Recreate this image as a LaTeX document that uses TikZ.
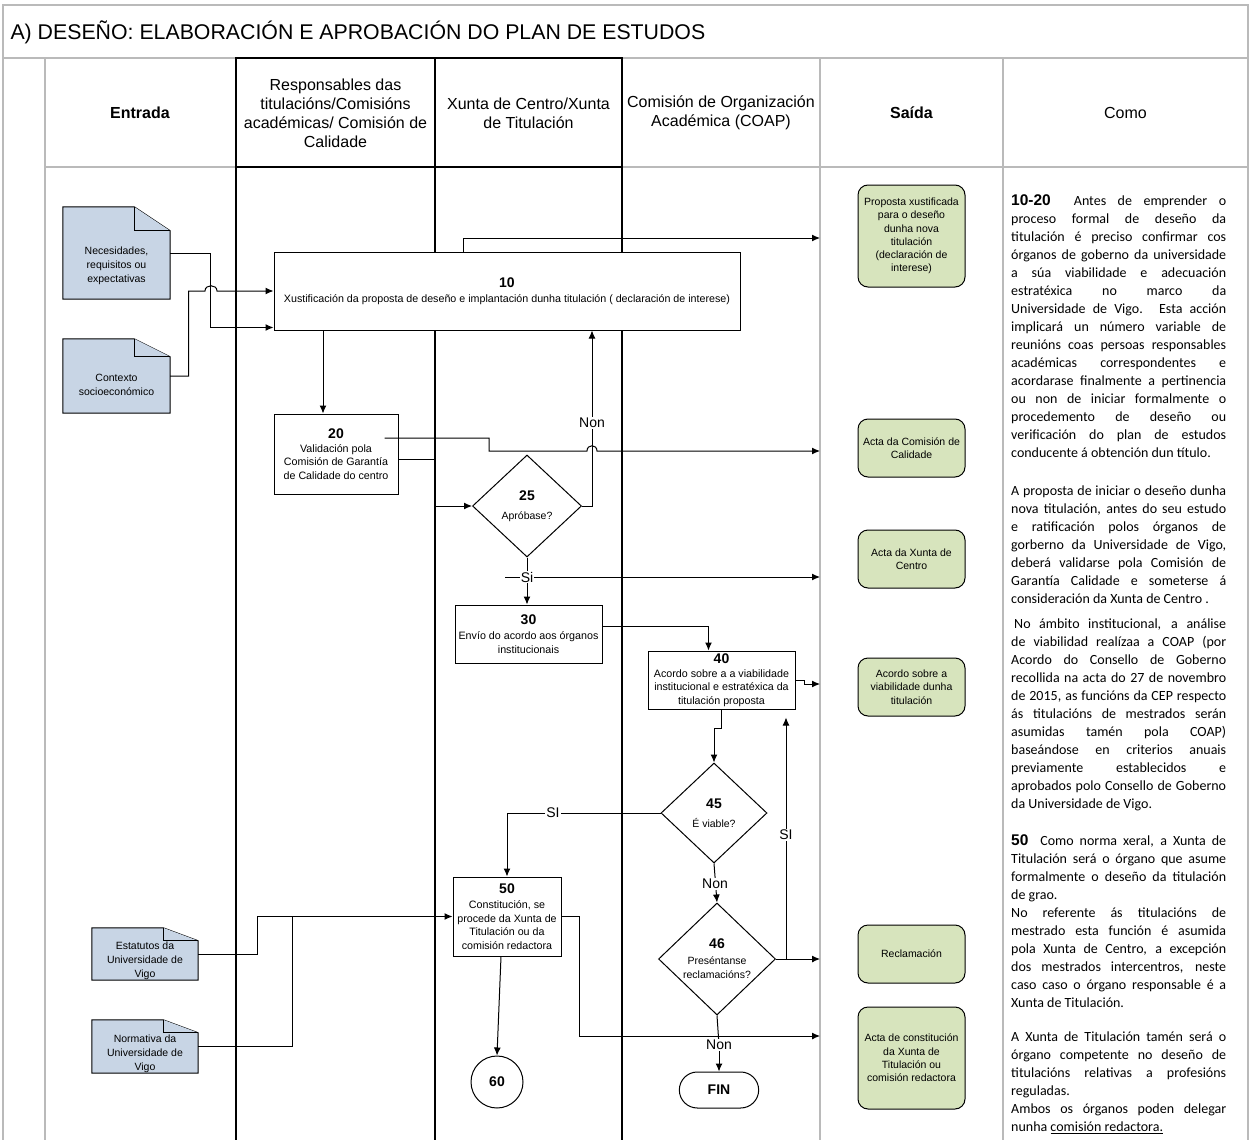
\documentclass[tikz,border=0pt]{standalone}
\usepackage{fontspec}
\setmainfont{Liberation Sans}
\newfontfamily\calibri{Carlito}
\usepackage{tikz}
\usetikzlibrary{shapes.geometric, shapes.misc, arrows.meta, positioning}
\definecolor{docblue}{RGB}{200,213,229}
\definecolor{saidagreen}{RGB}{215,228,189}
\colorlet{gridgray}{black!27}
\newcommand{\nro}[1]{{\fontsize{14}{16}\selectfont\bfseries #1}}
\newcommand{\paso}[1]{{\rmfamily\bfseries\fontsize{15.5}{18}\selectfont #1}}
\tikzset{proceso/.style = {draw, line width=1pt, fill=white, align=center, inner sep=1pt, font=\fontsize{10.7}{13.5}\selectfont}}
\tikzset{decision/.style = {proceso, diamond, inner sep=0pt, font=\fontsize{10.5}{14}\selectfont}}
\tikzset{saidabox/.style = {draw, line width=1pt, fill=saidagreen, rounded corners=10pt, minimum width=107, align=center, font=\fontsize{10.5}{13.3}\selectfont}}
\tikzset{docbody/.style = {minimum width=107, inner sep=0pt}}
\tikzset{docline/.style = {draw, line width=1pt, fill=docblue}}
\tikzset{doctext/.style = {align=center, inner sep=0pt, font=\fontsize{10.5}{14}\selectfont}}
\tikzset{arrow/.style = {line width=1pt, -{Latex[length=8pt,width=7pt]}}}
\tikzset{conector/.style = {line width=1pt}}
\tikzset{etiqueta/.style = {fill=white, inner sep=1pt, font=\fontsize{14}{14}\selectfont}}
\tikzset{cabeceira/.style = {align=center, font=\fontsize{16}{19}\selectfont}}
\tikzset{como/.style = {anchor=base west, inner sep=0pt, text width=215pt, align=justify, font=\calibri\fontsize{14}{18}\selectfont}}

\begin{document}
\begin{tikzpicture}[x=1pt, y=-1pt]
\useasboundingbox (0,0) rectangle (1251,1140);

% grella
\draw[gridgray, line width=1.3pt] (3,1140) -- (3,5) -- (1248,5) -- (1248,1140);
\draw[gridgray, line width=1.3pt] (3,58) -- (1248,58);
\draw[gridgray, line width=1.3pt] (45,58) -- (45,1140);
\draw[gridgray, line width=1.3pt] (45,167) -- (1248,167);
\draw[gridgray, line width=1.3pt] (820,58) -- (820,1140);
\draw[gridgray, line width=1.3pt] (1003,58) -- (1003,1140);
\draw[line width=1.4pt] (236,1140) -- (236,58) -- (622,58) -- (622,1140);
\draw[line width=1.4pt] (435,58) -- (435,1140);
\draw[line width=1.4pt] (236,167) -- (622,167);

\node[anchor=west, font=\fontsize{21.3}{24}\selectfont] (titulo) at (7,32) {A) DESEÑO: ELABORACIÓN E APROBACIÓN DO PLAN DE ESTUDOS};

\node[cabeceira, font=\bfseries\fontsize{16}{19}\selectfont] (hentrada) at (140,113) {Entrada};
\node[cabeceira] (hresp) at (335.5,113) {Responsables das\\titulacións/Comisións\\académicas/ Comisión de\\Calidade};
\node[cabeceira] (hxunta) at (528.5,113) {Xunta de Centro/Xunta\\de Titulación};
\node[cabeceira] (hcoap) at (721,113) {Comisión de Organización\\Académica (COAP)};
\node[cabeceira, font=\bfseries\fontsize{16}{19}\selectfont] (hsaida) at (911.5,113) {Saída};
\node[cabeceira] (hcomo) at (1125.5,113) {Como};

\coordinate (s1in) at (820,238);
\coordinate (s2in) at (820,451);
\coordinate (s3in) at (820,577);
\coordinate (s4in) at (820,684);
\coordinate (s5in) at (820,959);
\coordinate (s6in) at (820,1036);
\coordinate (si0) at (505,577);
\coordinate (j46) at (786,959);

% entradas
\node[docbody, minimum height=92] (e1) at (116.5,253) {};
\draw[docline] (e1.south west) -- (e1.north west) -- ([xshift=-36pt]e1.north east) -- ([yshift=-24pt]e1.north east) -- (e1.south east) -- cycle;
\draw[docline] ([xshift=-36pt]e1.north east) |- ([yshift=-24pt]e1.north east);
\node[doctext] (e1t) at (116.5,266) {Necesidades,\\requisitos ou\\expectativas};

\node[docbody, minimum height=74] (e2) at (116.5,376) {};
\draw[docline] (e2.south west) -- (e2.north west) -- ([xshift=-36pt]e2.north east) -- ([yshift=-18pt]e2.north east) -- (e2.south east) -- cycle;
\draw[docline] ([xshift=-36pt]e2.north east) |- ([yshift=-18pt]e2.north east);
\node[doctext] (e2t) at (116.5,385) {Contexto\\socioeconómico};

\node[docbody, minimum width=106, minimum height=52] (e3) at (145,954) {};
\draw[docline] (e3.south west) -- (e3.north west) -- ([xshift=-35pt]e3.north east) -- ([yshift=-13pt]e3.north east) -- (e3.south east) -- cycle;
\draw[docline] ([xshift=-35pt]e3.north east) |- ([yshift=-13pt]e3.north east);
\node[doctext] (e3t) at (145,961) {Estatutos da\\Universidade de\\Vigo};

\node[docbody, minimum width=106, minimum height=53] (e4) at (145,1046.5) {};
\draw[docline] (e4.south west) -- (e4.north west) -- ([xshift=-35pt]e4.north east) -- ([yshift=-13pt]e4.north east) -- (e4.south east) -- cycle;
\draw[docline] ([xshift=-35pt]e4.north east) |- ([yshift=-13pt]e4.north east);
\node[doctext] (e4t) at (145,1054) {Normativa da\\Universidade de\\Vigo};

% procesos
\node[proceso, minimum width=466, minimum height=78] (p10) at (507,291) {\nro{10}\\[1.5pt]Xustificación da proposta de deseño e implantación dunha titulación ( declaración de interese)};
\node[proceso, minimum width=124, minimum height=80] (p20) at (336,454) {\nro{20}\\Validación pola\\Comisión de Garantía\\de Calidade do centro};
\node[decision, minimum width=109, minimum height=102] (d25) at (527,506) {\nro{25}\\[5pt]Apróbase?};
\node[proceso, minimum width=147, minimum height=58] (p30) at (528.5,634) {\nro{30}\\[1.5pt]Envío do acordo aos órganos\\institucionais};
\node[proceso, minimum width=147, minimum height=58] (p40) at (721.5,680) {\nro{40}\\Acordo sobre a a viabilidade\\institucional e estratéxica da\\titulación proposta};
\node[decision, minimum width=106, minimum height=100] (d45) at (714,813) {\nro{45}\\[5pt]É viable?};
\node[decision, minimum width=117, minimum height=112] (d46) at (717,959) {\nro{46}\\[2pt]Preséntanse\\reclamacións?};
\node[proceso, minimum width=108, minimum height=79] (p50) at (507,916.5) {\nro{50}\\[1.5pt]Constitución, se\\procede da Xunta de\\Titulación ou da\\comisión redactora};
\node[draw, circle, line width=1pt, fill=white, minimum size=52, inner sep=0pt] (c60) at (497,1082) {\nro{60}};
\node[draw, rounded rectangle, line width=1pt, fill=white, minimum width=86, minimum height=36] (fin) at (719,1090) {\nro{FIN}};

% saidas
\node[saidabox, minimum height=102] (s1) at (911.5,236) {Proposta xustificada\\para o deseño\\dunha nova\\titulación\\(declaración de\\interese)};
\node[saidabox, minimum height=58] (s2) at (911.5,448) {Acta da Comisión de\\Calidade};
\node[saidabox, minimum height=58] (s3) at (911.5,559) {Acta da Xunta de\\Centro};
\node[saidabox, minimum height=58] (s4) at (911.5,687) {Acordo sobre a\\viabilidade dunha\\titulación};
\node[saidabox, minimum height=58] (s5) at (911.5,954) {Reclamación};
\node[saidabox, minimum height=102] (s6) at (911.5,1058) {Acta de constitución\\da Xunta de\\Titulación ou\\comisión redactora};

% conectores
\draw[arrow] (e1.east) -| ([xshift=-63pt,yshift=3pt]p10.south west) -- ([yshift=3pt]p10.south west);
\draw[arrow] (e2.east) -| ([xshift=-85pt]p10.west) -- (205,291) .. controls (205,284) and (217,284) .. (217,291) -- (p10.west);
\draw[arrow] ([xshift=-44pt]p10.north) |- (s1in);
\draw[arrow] ([xshift=-184pt]p10.south) -- ([xshift=-13pt]p20.north);
\draw[arrow] ([xshift=-14pt,yshift=16pt]p20.east) -- (489,438) -- (489,451) -- (587,451) .. controls (587,444) and (597,444) .. (597,451) -- (s2in);
\draw[arrow] ([yshift=-5pt]p20.east) -| ([xshift=-38pt]d25.west) -- (d25.west);
\draw[arrow] (d25.east) -| ([xshift=85pt]p10.south);
\draw[arrow] (d25.south) -- (d25.south |- p30.north);
\draw[arrow] (si0) -- (s3in);
\draw[arrow] ([yshift=8pt]p30.east) -| ([xshift=-13pt]p40.north);
\draw[arrow] (p40.east) -- ++(9,0) |- (s4in);
\draw[arrow] (p40.south) -- ++(0,19) -| (d45.north);
\draw[arrow] (d45.west) -| (p50.north);
\draw[arrow] (d45.south) -- (d46.north);
\draw[arrow] (d46.east) -- (s5in);
\draw[arrow, shorten >=8pt] (j46) -- (j46 |- p40.south);
\node[etiqueta, fill=none] (non3) at (719,1045) {Non};
\draw[conector] (d46.south) -- (non3);
\draw[arrow] (non3) -- (fin.north);
\draw[arrow] ([xshift=-6pt]p50.south) -- (c60.north);
\draw[arrow] (p50.east) -- ++(18,0) |- (s6in);
\draw[arrow] (e3.east) -| ([xshift=-195pt]p50.west) -- (p50.west);
\draw[conector] (e4.east) -| ([xshift=-160pt]p50.west);

\node[etiqueta] (non1) at (592,423) {Non};
\node[etiqueta] (si1) at (527,577) {Si};
\node[etiqueta] (si2) at (553,813) {SI};
\node[etiqueta] (non2) at (715,884) {Non};
\node[etiqueta] (si3) at (786,835) {SI};

% como
\node[como] (como1) at (1011,205) {\paso{10-20}\ \ Antes de emprender o\linebreak
proceso formal de deseño da\linebreak
titulación é preciso confirmar cos\linebreak
órganos de goberno da universidade\linebreak
a súa viabilidade e adecuación\linebreak
estratéxica no marco da\linebreak
Universidade de Vigo. Esta acción\linebreak
implicará un número variable de\linebreak
reunións coas persoas responsables\linebreak
académicas correspondentes e\linebreak
acordarase finalmente a pertinencia\linebreak
ou non de iniciar formalmente o\linebreak
procedemento de deseño ou\linebreak
verificación do plan de estudos\linebreak
conducente á obtención dun título.};
\node[como] (como2) at (1011,495.5) {A proposta de iniciar o deseño dunha\linebreak
nova titulación, antes do seu estudo\linebreak
e ratificación polos órganos de\linebreak
gorberno da Universidade de Vigo,\linebreak
deberá validarse pola Comisión de\linebreak
Garantía Calidade e someterse á\linebreak
consideración da Xunta de Centro .};
\node[como] (como3) at (1011,628.5) {\hspace{3pt}No ámbito institucional, a análise\linebreak
de viabilidad realízaa a COAP (por\linebreak
Acordo do Consello de Goberno\linebreak
recollida na acta do 27 de novembro\linebreak
de 2015, as funcións da CEP respecto\linebreak
ás titulacións de mestrados serán\linebreak
asumidas tamén pola COAP)\linebreak
baseándose en criterios anuais\linebreak
previamente establecidos e\linebreak
aprobados polo Consello de Goberno\linebreak
da Universidade de Vigo.};
\node[como] (como4) at (1011,845) {\paso{50}\ \ Como norma xeral, a Xunta de\linebreak
Titulación será o órgano que asume\linebreak
formalmente o deseño da titulación\linebreak
de grao.\\
No referente ás titulacións de\linebreak
mestrado esta función é asumida\linebreak
pola Xunta de Centro, a excepción\linebreak
dos mestrados intercentros, neste\linebreak
caso caso o órgano responsable é a\linebreak
Xunta de Titulación.};
\node[como] (como5) at (1011,1041.5) {A Xunta de Titulación tamén será o\linebreak
órgano competente no deseño de\linebreak
titulacións relativas a profesións\linebreak
reguladas.\\
Ambos os órganos poden delegar\linebreak
nunha \underline{comisión redactora.}};
\end{tikzpicture}
\end{document}
